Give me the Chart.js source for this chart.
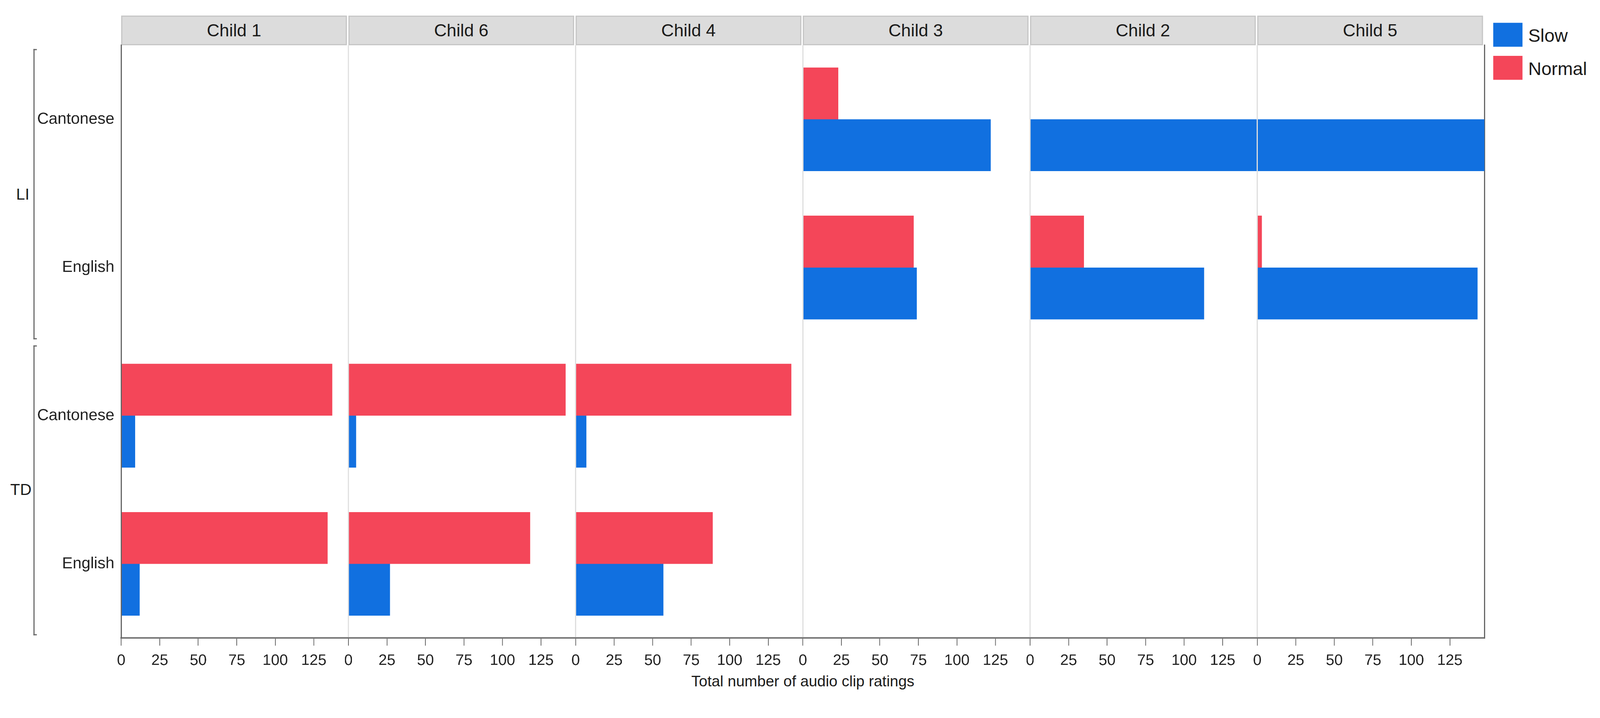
<!DOCTYPE html>
<html>
<head>
<meta charset="utf-8">
<script src="https://cdn.jsdelivr.net/npm/chart.js@4/dist/chart.umd.min.js"></script>
<style>
  html, body { margin: 0; padding: 0; background: #fff; overflow: hidden; }
  #page { position: absolute; left: 0; top: 0; width: 4211px; height: 1838px; background: #fff;
          transform-origin: 0 0; font-family: 'Liberation Sans', Arial, sans-serif; color: #1a1a1a; }
  .abs { position: absolute; }
  .head { position: absolute; top: 41px; height: 72px; background: #dcdcdc; border: 3px solid #c6c6c6;
          font-size: 46px; line-height: 72px; text-align: center; }
  .bracket { position: absolute; left: 88px; width: 6px; border: 3px solid #666; border-right: none; }
  .grp { position: absolute; font-size: 42px; transform: translate(-50%, -50%); }
  .swatch { position: absolute; left: 3930px; width: 77px; height: 63px; }
  .leg { position: absolute; left: 4022px; font-size: 48px; transform: translateY(-50%); }
  .chartbox { position: absolute; }
</style>
</head>
<body>
<div id="page">
  <div class="bracket" style="top:129px;height:758px"></div>
  <div class="bracket" style="top:909px;height:757px"></div>
  <div class="grp" style="left:60px;top:511px">LI</div>
  <div class="grp" style="left:55px;top:1289px">TD</div>

  <div class="swatch" style="top:60px;background:#1170e0"></div>
  <div class="leg" style="top:94px">Slow</div>
  <div class="swatch" style="top:147px;background:#f44659"></div>
  <div class="leg" style="top:181px">Normal</div>

  <div class="abs" style="left:2113px;top:1793px;font-size:40px;transform:translate(-50%,-50%);white-space:nowrap">Total number of audio clip ratings</div>
</div>

<script>
'use strict';

const children = ['Child 1', 'Child 6', 'Child 4', 'Child 3', 'Child 2', 'Child 5'];
const rowLabels = ['Cantonese', 'English', 'Cantonese', 'English'];   // LI x2, TD x2

// per child: [LI Cantonese, LI English, TD Cantonese, TD English]
const slowChild1 = [null, null, 9, 12];
const slowChild6 = [null, null, 5, 27];
const slowChild4 = [null, null, 7, 57];
const slowChild3 = [122, 74, null, null];
const slowChild2 = [150, 113, null, null];
const slowChild5 = [150, 143, null, null];

const normalChild1 = [null, null, 137, 134];
const normalChild6 = [null, null, 141, 118];
const normalChild4 = [null, null, 140, 89];
const normalChild3 = [23, 72, null, null];
const normalChild2 = [null, 35, null, null];
const normalChild5 = [null, 3, null, null];

const xTicks = [0, 25, 50, 75, 100, 125];
const xMax = 147.5;

const slowData = [slowChild1, slowChild6, slowChild4, slowChild3, slowChild2, slowChild5];
const normalData = [normalChild1, normalChild6, normalChild4, normalChild3, normalChild2, normalChild5];

const colors = { Slow: '#1170e0', Normal: '#f44659' };
const panelLeft = 319, panelW = 598, pad = 40, plotTop = 119, plotH = 1560, axisH = 120;
const font = "'Liberation Sans', Arial, sans-serif";

// the layout is drawn at 4211x1838 and scaled to whatever the viewport really is
const page = document.getElementById('page');
const k = Math.min(window.innerWidth / 4211, window.innerHeight / 1838);
page.style.transform = 'scale(' + k + ')';

children.forEach((name, i) => {
    const left = panelLeft + i * panelW;

    const head = document.createElement('div');
    head.className = 'head';
    head.style.left = left + 'px';
    head.style.width = (panelW - 10) + 'px';
    head.textContent = name;
    page.appendChild(head);

    const first = i === 0, last = i === children.length - 1;
    const boxLeft = first ? 0 : left - pad;
    const boxW = first ? panelLeft + panelW + pad : panelW + 2 * pad;

    const box = document.createElement('div');
    box.className = 'chartbox';
    box.style.left = boxLeft + 'px';
    box.style.top = (plotTop - pad) + 'px';
    const canvas = document.createElement('canvas');
    canvas.width = boxW;
    canvas.height = pad + plotH + axisH;
    box.appendChild(canvas);
    page.appendChild(box);

    new Chart(canvas.getContext('2d'), {
        type: 'bar',
        data: {
            labels: rowLabels,
            datasets: [
                { label: 'Normal', data: normalData[i], backgroundColor: colors.Normal, clip: 0 },
                { label: 'Slow', data: slowData[i], backgroundColor: colors.Slow, clip: 0 }
            ]
        },
        options: {
            indexAxis: 'y',
            responsive: false,
            animation: false,
            devicePixelRatio: 2,
            layout: { padding: { left: first ? 0 : pad, right: pad, top: pad, bottom: 0 } },
            datasets: { bar: { categoryPercentage: 0.7, barPercentage: 1.0 } },
            plugins: { legend: { display: false }, tooltip: { enabled: false } },
            scales: {
                x: {
                    min: 0,
                    max: xMax,
                    afterFit: s => { s.height = axisH; },
                    afterBuildTicks: s => { s.ticks = xTicks.map(v => ({ value: v })); },
                    border: { color: '#777', width: 4 },
                    grid: {
                        color: c => (c.tick && c.tick.value === 0) ? '#dedede' : 'rgba(0,0,0,0)',
                        lineWidth: 3,
                        tickLength: 20,
                        tickColor: '#666',
                        tickWidth: 2
                    },
                    ticks: { padding: 16, color: '#222', font: { family: font, size: 40 }, maxRotation: 0 }
                },
                y: {
                    display: first || last,
                    position: last && !first ? 'right' : 'left',
                    afterFit: s => { s.width = first ? panelLeft : 0; },
                    border: { color: '#666', width: 3 },
                    grid: { display: false },
                    ticks: { display: first, padding: 10, color: '#222', font: { family: font, size: 42 } }
                }
            }
        }
    });
});
</script>
</body>
</html>
